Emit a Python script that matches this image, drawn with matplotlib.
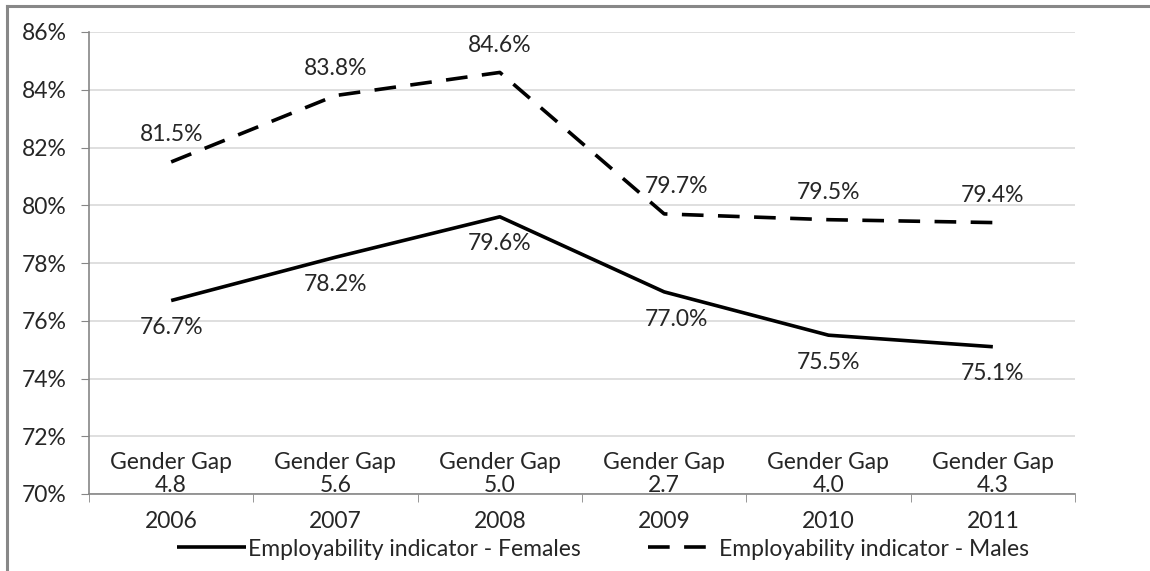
import matplotlib
matplotlib.use("Agg")
import matplotlib.pyplot as plt
from matplotlib.lines import Line2D

years = ["2006", "2007", "2008", "2009", "2010", "2011"]
females = [76.7, 78.2, 79.6, 77.0, 75.5, 75.1]
males = [81.5, 83.8, 84.6, 79.7, 79.5, 79.4]
gaps = ["4.8", "5.6", "5.0", "2.7", "4.0", "4.3"]

plt.rcParams['font.family'] = ['Lato', 'DejaVu Sans']
plt.rcParams['font.size'] = 16.5
txt = '#262626'

fig = plt.figure(figsize=(11.5, 5.71), dpi=100)
ax = fig.add_axes([89/1150, 77/571, 986/1150, 462/571])

x = list(range(len(years)))
ax.plot(x, females, color='black', lw=2.6, solid_capstyle='butt',
        label='Employability indicator - Females')
ax.plot(x, males, color='black', lw=2.6, dashes=(6, 4),
        label='Employability indicator - Males')

# data labels
for i in x:
    dx = 9 if i == 3 else 0
    ax.annotate(f"{males[i]:.1f}%", (i, males[i]), xytext=(dx, 12),
                textcoords='offset points', ha='center', va='bottom', color=txt)
    ax.annotate(f"{females[i]:.1f}%", (i, females[i]), xytext=(dx, -12),
                textcoords='offset points', ha='center', va='top', color=txt)
    ax.text(i, 70.69, f"Gender Gap\n{gaps[i]}", ha='center', va='center',
            color=txt, linespacing=1.1)

ax.set_xlim(-0.5, 5.5)
ax.set_ylim(70, 86)
ax.set_yticks(range(70, 87, 2))
ax.set_yticklabels([f"{v}%" for v in range(70, 87, 2)], color=txt)
ax.set_xticks(x)
ax.set_xticklabels(years, color=txt)
ax.set_xticks([i - 0.5 for i in range(7)], minor=True)
ax.tick_params(axis='x', which='major', length=0, pad=12)
ax.tick_params(axis='x', which='minor', length=6, color='#868686')
ax.tick_params(axis='y', length=6, color='#868686', pad=10)

ax.grid(axis='y', color='#d9d9d9', lw=1.2)
ax.set_axisbelow(True)
for s in ['top', 'right']:
    ax.spines[s].set_visible(False)
for s in ['left', 'bottom']:
    ax.spines[s].set_color('#868686')
    ax.spines[s].set_linewidth(1.2)

fig.legend(loc='center', bbox_to_anchor=(603/1150, 1 - 549/571), ncol=2,
           frameon=False, handlelength=3.0, handletextpad=0.1,
           columnspacing=2.9, fontsize=16.5, labelcolor=txt)

# outer chart frame
fig.add_artist(Line2D([7/1150, 1], [1 - 5.5/571] * 2, color='#888888', lw=2.2,
                      transform=fig.transFigure))
fig.add_artist(Line2D([7/1150] * 2, [0, 1 - 5.5/571], color='#888888', lw=2.2,
                      transform=fig.transFigure))

fig.savefig('out.png', dpi=100)
